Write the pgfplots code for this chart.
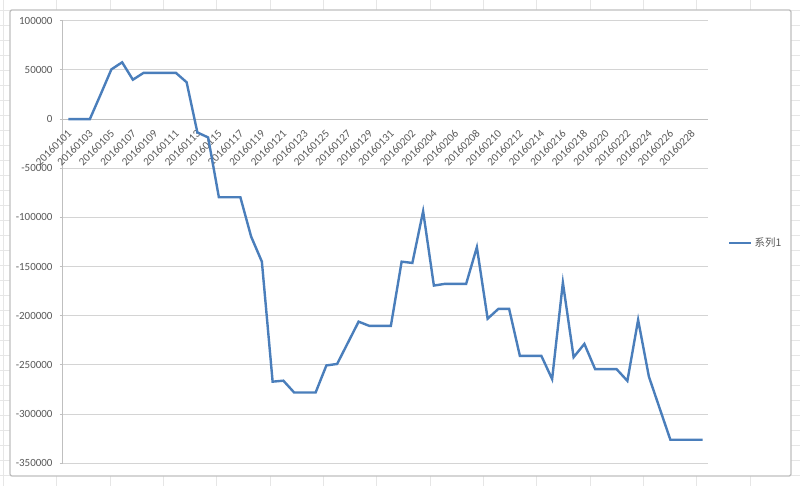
\documentclass[border=0pt]{standalone}
\usepackage{pgfplots}
\usepackage{pgfplotstable}
\pgfplotsset{compat=1.18}
\usepackage{fontspec}
\setmainfont{Carlito}
\newfontfamily\cjk{Noto Sans CJK SC}
\definecolor{series}{HTML}{4A7EBB}
\definecolor{gridc}{HTML}{D4D4D4}
\definecolor{axc}{HTML}{BFBFBF}
\definecolor{cellc}{HTML}{E6E6E6}
\definecolor{txt}{HTML}{595959}

% running total per day, 20160101 .. 20160229
\pgfplotstableread{
i v
0 0
1 0
2 0
3 25000
4 50500
5 57700
6 40000
7 47000
8 47000
9 47000
10 47000
11 37400
12 -13600
13 -18700
14 -79500
15 -79500
16 -79500
17 -119500
18 -145000
19 -267000
20 -266000
21 -278000
22 -278000
23 -278000
24 -250500
25 -249000
26 -227500
27 -206000
28 -210300
29 -210300
30 -210300
31 -145000
32 -146300
33 -93800
34 -169300
35 -167600
36 -167600
37 -167600
38 -130300
39 -203000
40 -193000
41 -193000
42 -240800
43 -240800
44 -240800
45 -264400
46 -166300
47 -242100
48 -228600
49 -254300
50 -254300
51 -254300
52 -266200
53 -204200
54 -261800
55 -294000
56 -326100
57 -326100
58 -326100
59 -326100
}\data

\begin{document}
\begin{tikzpicture}
\useasboundingbox (-63bp,-22.7bp) rectangle (737bp,463.3bp);
\fill[white] (-63bp,-22.7bp) rectangle (737bp,463.3bp);
% sheet cells behind the chart
\foreach \k in {0,...,15} {
  \draw[cellc, line width=0.8bp] ({3.4*1bp+53.33*\k*1bp-63bp},-22.7bp) -- ++(0,486bp);
}
\foreach \k in {0,...,32} {
  \draw[cellc, line width=0.8bp] (-63bp,{463.3bp-10bp-15*\k*1bp}) -- ++(800bp,0);
}
\draw[axc, line width=1.3bp, fill=white, rounded corners=2bp] (-53bp,-12.7bp) rectangle (728bp,453.3bp);

\begin{axis}[
    scale only axis,
    width=645bp, height=442.6bp,
    xmin=-0.5, xmax=59.5,
    ymin=-350000, ymax=100000,
    axis x line*=middle,
    axis y line*=left,
    axis line style={axc, line width=1bp},
    tick align=outside,
    xtick={0,2,...,58},
    xticklabels={20160101,20160103,20160105,20160107,20160109,20160111,20160113,20160115,20160117,20160119,20160121,20160123,20160125,20160127,20160129,20160131,20160202,20160204,20160206,20160208,20160210,20160212,20160214,20160216,20160218,20160220,20160222,20160224,20160226,20160228},
    minor xtick={-0.5,0.5,...,59.5},
    xtick style={draw=none},
    minor x tick style={axc, line width=1bp},
    minor tick length=3bp,
    scaled y ticks=false,
    ytick={-350000,-300000,...,100000},
    yticklabels={-350000,-300000,-250000,-200000,-150000,-100000,-50000,0,50000,100000},
    ytick style={axc, line width=1bp},
    major tick length=3bp,
    ymajorgrids,
    grid style={gridc, line width=1bp},
    xticklabel style={xshift=2bp, yshift=-9bp, rotate=45, anchor=east, font=\fontsize{11.2}{13}\selectfont, text=txt, inner sep=1bp},
    yticklabel style={font=\fontsize{11}{13}\selectfont, text=txt, xshift=-4bp},
    legend style={at={(1.031,0.498)}, anchor=west, draw=none, fill=none,
      font=\cjk\fontsize{10.5}{13}\selectfont, text=txt, inner sep=0pt},
    legend image code/.code={\draw[#1] (0bp,0bp) -- (22bp,0bp);},
    clip=false,
]
\addplot[series, line width=2.4bp] table[x=i, y=v] {\data};
\addlegendentry{系列1}
\end{axis}
\end{tikzpicture}
\end{document}
